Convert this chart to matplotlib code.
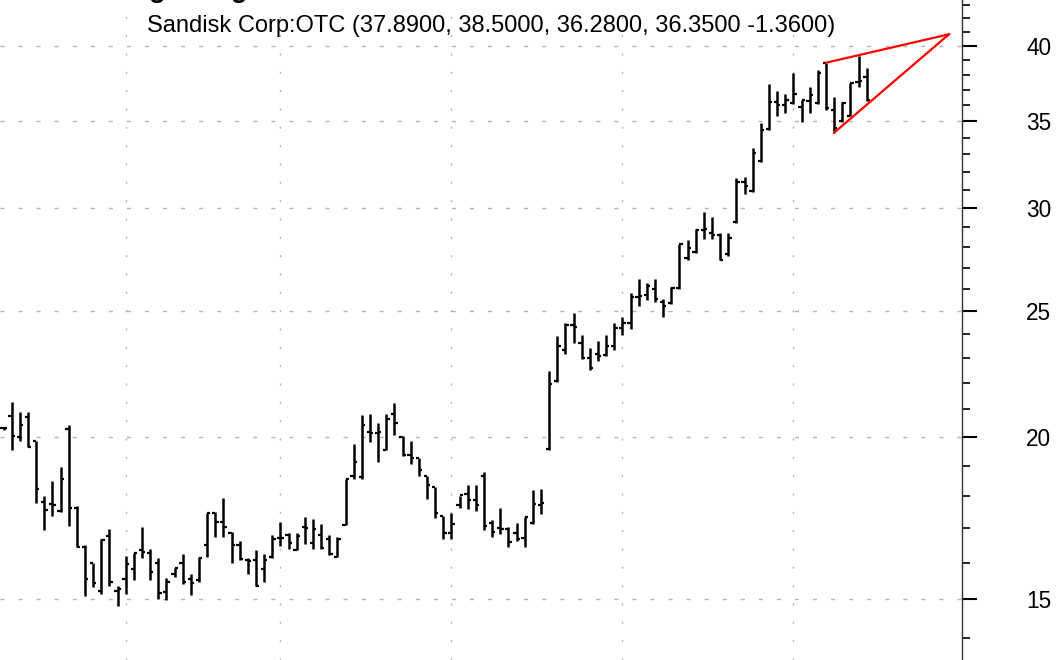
import numpy as np
import matplotlib.pyplot as plt
from matplotlib.ticker import FixedLocator, NullFormatter

# daily OHLC bars (oldest first)
opens = [20.30, 20.76, 20.00, 20.71, 19.86, 17.80, 17.75, 17.54, 20.26, 17.63,
         16.46, 15.98, 15.21, 16.78, 15.22, 15.54, 15.81, 16.35, 16.27, 15.98,
         15.19, 15.68, 15.98, 15.54, 15.51, 16.51, 17.47, 17.20, 16.87, 16.51,
         16.08, 16.07, 15.81, 16.15, 16.70, 16.80, 16.36, 17.05, 16.56, 16.80,
         16.67, 16.17, 17.10, 18.66, 18.63, 20.16, 20.14, 19.54, 20.82, 19.99,
         19.36, 19.25, 18.66, 18.30, 17.38, 16.87, 17.72, 18.07, 17.88, 18.66,
         17.15, 17.00, 16.97, 16.85, 16.70, 17.17, 17.72, 19.57, 22.09, 23.33,
         24.39, 23.63, 23.00, 23.16, 23.12, 23.50, 24.25, 24.47, 25.62, 25.72,
         25.97, 25.41, 25.37, 26.02, 27.45, 27.77, 28.87, 28.69, 28.60, 27.67,
         29.28, 31.40, 30.91, 32.64, 34.50, 36.24, 36.03, 36.13, 35.91, 36.30,
         36.13, 38.79, 35.71, 35.04, 35.33, 37.53, 37.89]
highs = [20.35, 21.29, 20.90, 20.90, 19.86, 17.99, 18.50, 18.95, 20.41, 17.69,
         16.51, 15.98, 16.67, 16.97, 15.34, 16.19, 16.27, 17.04, 16.40, 16.12,
         15.56, 15.85, 16.25, 15.69, 16.17, 17.47, 17.51, 17.94, 16.90, 16.63,
         16.12, 16.35, 16.25, 16.80, 17.20, 16.87, 16.87, 17.34, 17.28, 17.13,
         16.80, 16.75, 18.54, 19.74, 20.78, 20.82, 20.49, 20.82, 21.25, 20.01,
         19.86, 19.25, 18.66, 18.30, 17.38, 17.47, 18.01, 18.36, 18.36, 18.80,
         17.25, 17.62, 17.05, 17.15, 17.36, 18.20, 18.22, 22.46, 23.92, 24.47,
         24.91, 23.96, 23.40, 23.71, 23.96, 24.47, 24.73, 25.80, 26.45, 26.29,
         26.45, 25.52, 26.09, 28.17, 28.35, 28.89, 29.81, 29.55, 28.69, 28.69,
         31.67, 31.72, 33.37, 34.90, 37.39, 36.91, 36.76, 38.14, 36.35, 37.21,
         38.33, 38.83, 36.52, 36.24, 37.48, 39.30, 38.50]
lows = [20.25, 19.52, 19.85, 19.64, 17.77, 16.95, 17.38, 17.51, 17.08, 16.46,
        15.09, 15.31, 15.12, 15.34, 14.80, 15.12, 15.51, 16.12, 15.51, 14.99,
        14.96, 15.59, 15.40, 15.11, 15.47, 16.17, 16.73, 16.73, 16.00, 16.07,
        15.68, 15.34, 15.47, 16.12, 16.48, 16.38, 16.35, 16.54, 16.38, 16.38,
        16.22, 16.17, 17.10, 18.54, 18.54, 19.82, 19.11, 19.52, 20.07, 19.33,
        19.06, 18.66, 17.90, 17.31, 16.67, 16.67, 17.62, 17.59, 17.54, 16.95,
        16.75, 16.83, 16.46, 16.63, 16.44, 17.13, 17.44, 19.52, 22.05, 23.16,
        23.63, 22.96, 22.52, 22.86, 23.08, 23.33, 23.96, 24.20, 25.22, 25.49,
        25.41, 24.73, 25.31, 25.97, 27.37, 27.72, 28.39, 28.39, 27.37, 27.56,
        29.23, 30.79, 30.86, 32.58, 34.46, 35.33, 35.50, 36.09, 34.98, 35.50,
        36.09, 35.71, 34.30, 34.98, 35.33, 37.21, 36.28]
closes = [20.30, 20.01, 20.41, 19.65, 18.23, 17.56, 17.72, 18.55, 17.63, 16.46,
          15.54, 15.44, 16.65, 15.47, 15.28, 15.95, 16.26, 16.30, 15.74, 15.17,
          15.47, 15.85, 15.47, 15.44, 16.14, 17.47, 17.20, 17.05, 16.51, 16.09,
          16.05, 15.35, 16.07, 16.67, 16.72, 16.56, 16.77, 17.02, 16.97, 16.41,
          16.25, 16.67, 18.54, 19.14, 20.41, 20.12, 20.16, 20.63, 20.49, 19.36,
          19.25, 18.85, 18.36, 17.47, 16.87, 17.13, 18.04, 17.88, 17.72, 17.07,
          16.90, 16.97, 16.60, 16.67, 17.34, 17.75, 17.79, 21.98, 23.50, 24.39,
          24.32, 23.00, 22.59, 23.08, 23.50, 24.25, 24.47, 25.62, 25.65, 26.12,
          25.52, 25.22, 26.04, 28.15, 27.93, 28.85, 28.92, 28.60, 27.37, 28.43,
          31.45, 31.18, 33.07, 34.46, 36.24, 36.03, 36.35, 36.74, 36.35, 36.67,
          38.11, 35.82, 34.58, 36.18, 37.44, 37.60, 36.35]

# wedge lines (bar index, price)
wedge_top = ([101, 116.1], [38.83, 40.84])
wedge_bottom = ([102, 116.1], [34.30, 40.84])

month_starts = [15, 34, 55, 76, 97]
price_ticks = [15, 20, 25, 30, 35, 40]

title = "Sandisk Corp:OTC (37.8900, 38.5000, 36.2800, 36.3500 -1.3600)"

plt.rcParams['font.family'] = ['Liberation Sans', 'DejaVu Sans']

fig = plt.figure(figsize=(10.61, 6.6), dpi=100)
ax = fig.add_axes([0, 0, 962 / 1061, 1])

x = np.arange(len(closes))
w = 0.4
ax.vlines(x, lows, highs, color='black', lw=1.8)
ax.hlines(opens, x - w, x, color='black', lw=1.6)
ax.hlines(closes, x, x + w, color='black', lw=1.6)

ax.plot(*wedge_top, color='#ff0000', lw=1.6)
ax.plot(*wedge_bottom, color='#ff0000', lw=1.6)

ax.set_yscale('log')
ax.set_ylim(13.46, 43.4)
ax.set_xlim(-0.44, 117.7)

ax.yaxis.tick_right()
ax.yaxis.set_major_locator(FixedLocator(price_ticks))
ax.set_yticklabels([str(t) for t in price_ticks])
ax.yaxis.set_minor_locator(FixedLocator([v for v in range(14, 44) if v not in price_ticks]))
ax.yaxis.set_minor_formatter(NullFormatter())
ax.tick_params(axis='y', which='major', direction='out', length=10.8, width=1.5,
               pad=35.5, labelsize=16.3, colors='black')
ax.tick_params(axis='y', which='minor', direction='out', length=5.8, width=1.2, colors='black')

ax.set_xticks(month_starts)
ax.set_xticklabels([])
ax.tick_params(axis='x', length=0)

ax.yaxis.grid(True, which='major', color='#b4b4b4', lw=1.0, linestyle=(0, (2.9, 10.1)))
ax.xaxis.grid(True, color='#b4b4b4', lw=1.0, linestyle=(0, (1.5, 11.7)))
ax.set_axisbelow(True)

for side in ['top', 'left', 'bottom']:
    ax.spines[side].set_visible(False)
ax.spines['right'].set_color('#333333')
ax.spines['right'].set_linewidth(1.0)

# chart title sits above the visible area, only its descenders show
fig.text(82 / 1061, 1 + 2.7 / 660, "Rising Wedge", fontsize=19.7, fontweight='bold',
         va='baseline', ha='left')
fig.text(147 / 1061, 1 - 32.3 / 660, title, fontsize=17, va='baseline', ha='left')

fig.savefig('out.png', dpi=100)
